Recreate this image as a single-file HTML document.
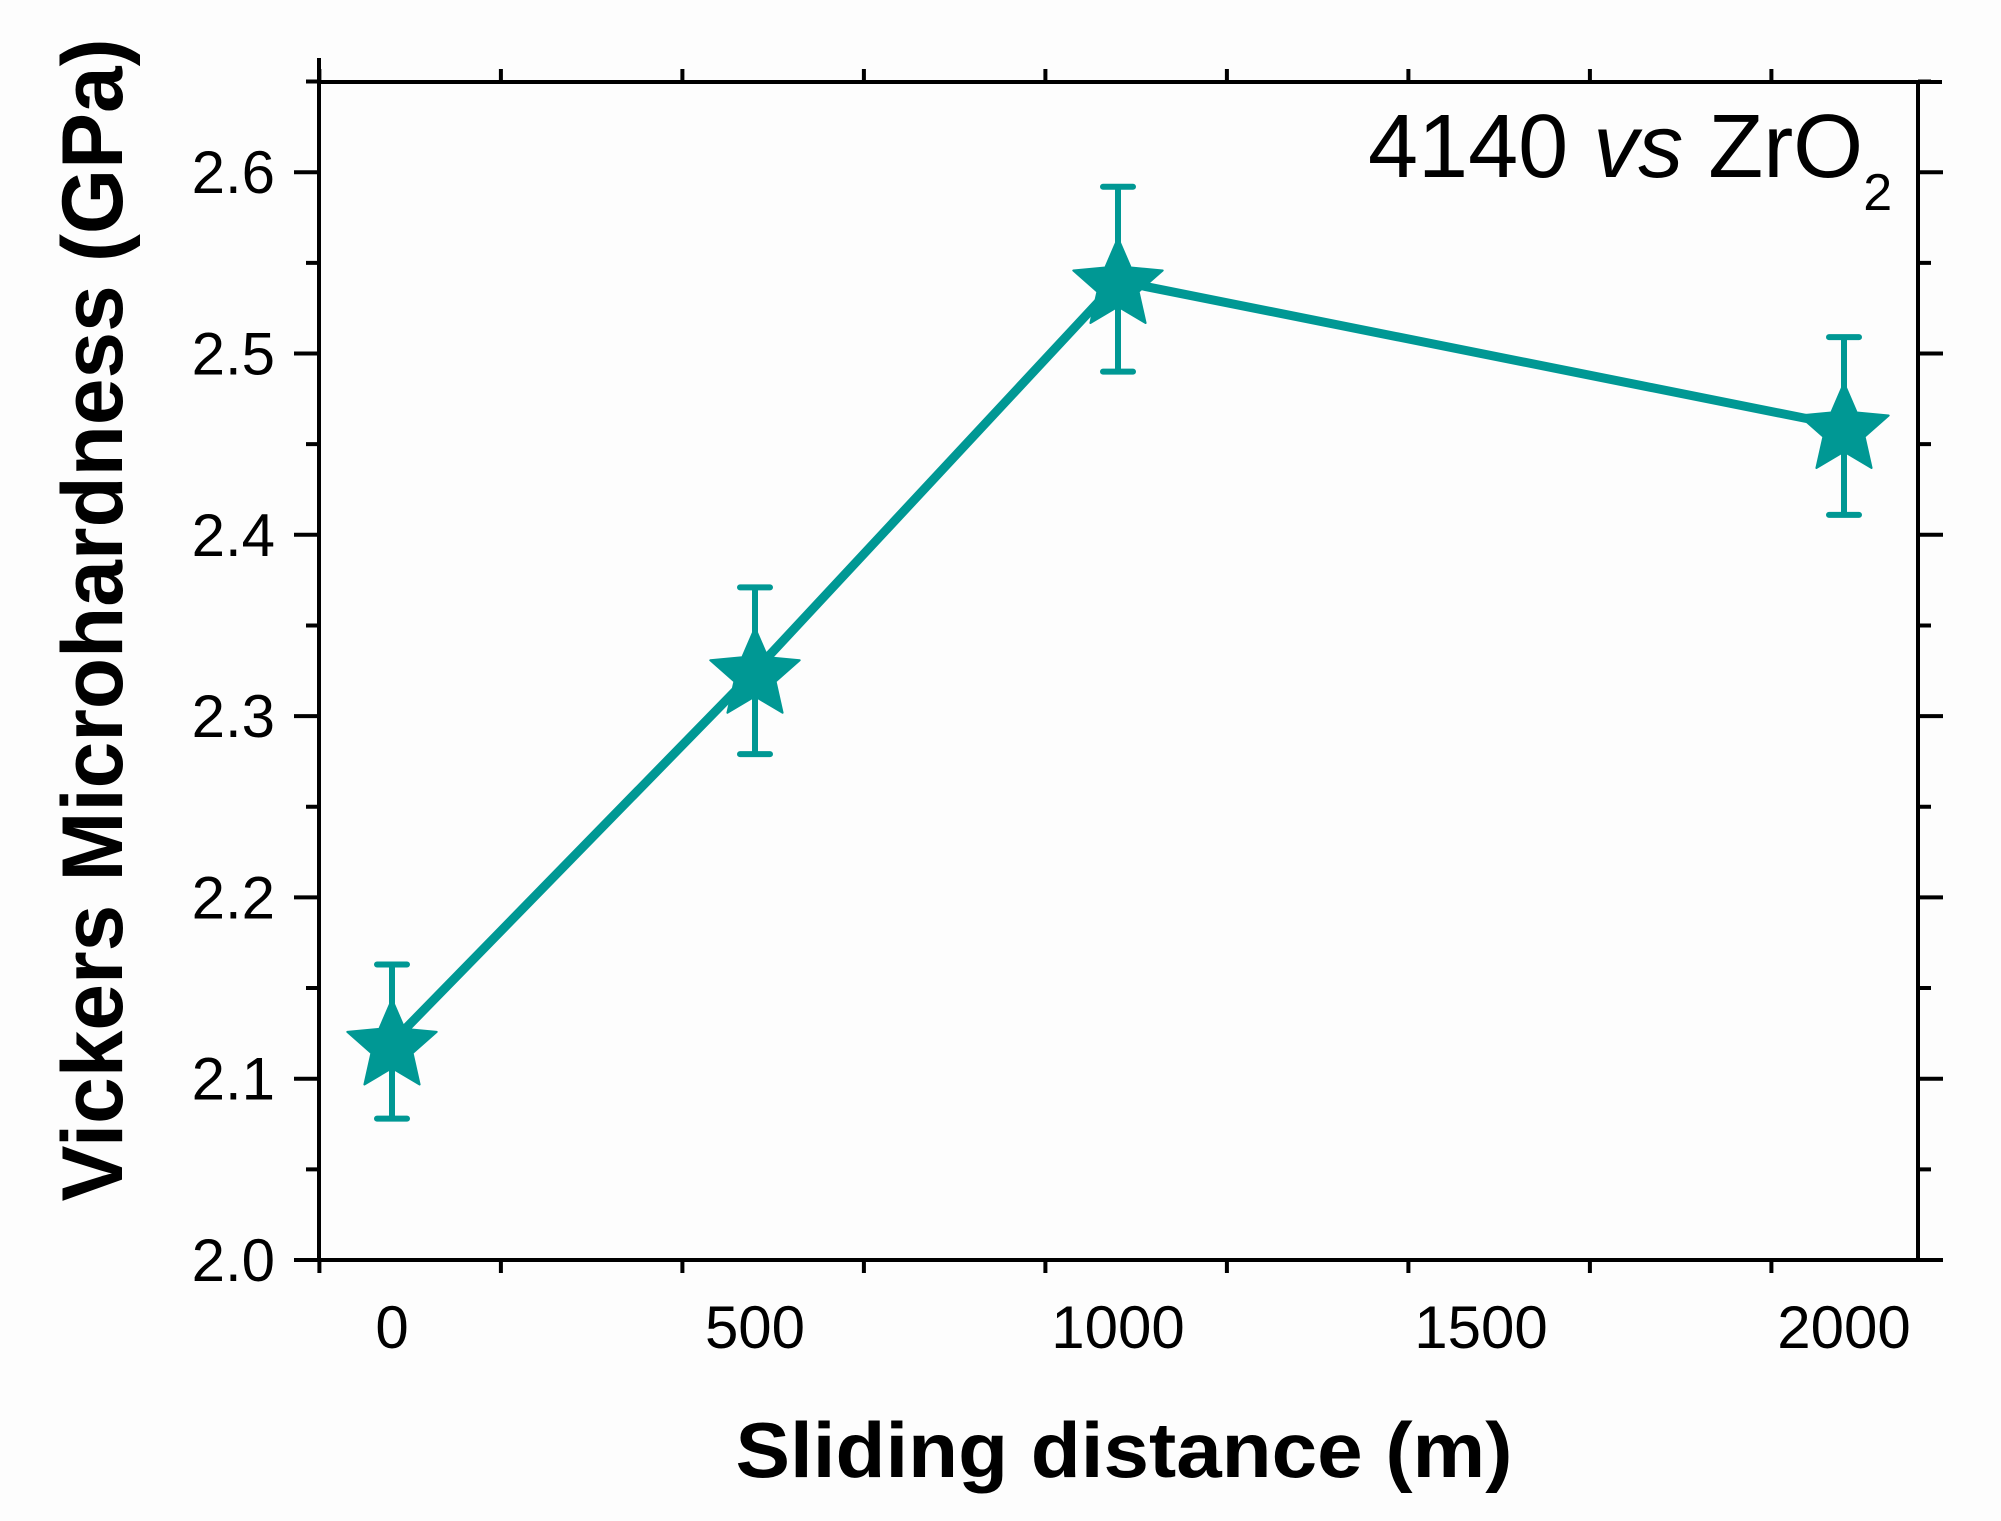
<!DOCTYPE html>
<html><head><meta charset="utf-8"><style>
html,body{margin:0;padding:0;background:#fdfdfd;}
svg{display:block;}
text{font-family:"Liberation Sans",Arial,sans-serif;fill:#000;}
</style></head><body>
<svg id="chart" width="2001" height="1521" viewBox="0 0 2001 1521" xmlns="http://www.w3.org/2000/svg">
<rect x="0" y="0" width="2001" height="1521" fill="#fdfdfd"/>
<g id="axes"></g>
<g id="series"></g>
<text x="1368" y="177" font-size="90">4140 <tspan font-style="italic">vs</tspan> ZrO<tspan font-size="52" dy="33">2</tspan></text>
<text x="1124" y="1477" font-size="78" font-weight="bold" text-anchor="middle" textLength="777" lengthAdjust="spacingAndGlyphs">Sliding distance (m)</text>
<text transform="translate(122,620) rotate(-90)" font-size="86" font-weight="bold" text-anchor="middle" textLength="1163" lengthAdjust="spacingAndGlyphs">Vickers Microhardness (GPa)</text>
</svg>
<script>
const distances = [0, 500, 1000, 2000];
const hardness = [2.12, 2.325, 2.54, 2.46];
const errUpper = [2.163, 2.371, 2.592, 2.509];
const errLower = [2.078, 2.279, 2.49, 2.411];
const xTicks = [0, 500, 1000, 1500, 2000];
const xTickLabels = ['0', '500', '1000', '1500', '2000'];
const yTicks = [2.0, 2.1, 2.2, 2.3, 2.4, 2.5, 2.6];
const yTickLabels = ['2.0', '2.1', '2.2', '2.3', '2.4', '2.5', '2.6'];

const NS = 'http://www.w3.org/2000/svg';
const L = 319, R = 1918, T = 82, B = 1260;
function sx(v){ return 392 + v * (1844 - 392) / 2000; }
function sy(v){ return 1260 - (v - 2.0) * 1813; }
function mk(tag, attrs, parent){
  const e = document.createElementNS(NS, tag);
  for (const k in attrs) e.setAttribute(k, attrs[k]);
  parent.appendChild(e);
  return e;
}
const axes = document.getElementById('axes');
const series = document.getElementById('series');
const frame = mk('rect', {x:L, y:T, width:R-L, height:B-T, fill:'none', stroke:'#000', 'stroke-width':4}, axes);


const ext = mk('path', {d:`M${L-24},${B}H${L} M${R},${B}H${R+24} M${L},${T}V${T-24} M${R},${T}H${R+24}`, stroke:'#000', 'stroke-width':4, fill:'none'}, axes);



for (let v = -100; v <= 2100; v += 250) {
  const x = sx(v);
  if (x < L - 30 || x > R + 30) continue;
  const major = v % 500 === 0;
  const len = major ? 25 : 13;
  const t = mk('path', {d:`M${x},${B}V${B+len} M${x},${T}V${T-len}`, stroke:'#000', 'stroke-width':4}, axes);
  
  
}
xTicks.forEach((v, i) => {
  const t = mk('text', {x:sx(v), y:1348, 'font-size':60, 'text-anchor':'middle'}, axes);
  t.textContent = xTickLabels[i];
  
  
});
for (let k = 0; k <= 13; k++) {
  const v = 2.0 + k * 0.05;
  const y = sy(v);
  const major = k % 2 === 0;
  const len = major ? 25 : 13;
  const t = mk('path', {d:`M${L},${y}H${L-len} M${R},${y}H${R+len}`, stroke:'#000', 'stroke-width':4}, axes);
  
  
}
yTicks.forEach((v, i) => {
  const t = mk('text', {x:275, y:sy(v)+21, 'font-size':60, 'text-anchor':'end'}, axes);
  t.textContent = yTickLabels[i];
  
  
});

const color = '#009894';
distances.forEach((d, i) => {
  const x = sx(d);
  const e = mk('path', {d:`M${x},${sy(errUpper[i])}V${sy(errLower[i])} M${x-15},${sy(errUpper[i])}H${x+15} M${x-15},${sy(errLower[i])}H${x+15}`, stroke:color, 'stroke-width':6, 'stroke-linecap':'round', fill:'none'}, series);
  
  
});
const pts = distances.map((d, i) => `${sx(d)},${sy(hardness[i])}`).join(' ');
const line = mk('polyline', {points:pts, fill:'none', stroke:color, 'stroke-width':9, 'stroke-linejoin':'round'}, series);


function starPath(cx, cy, r){
  const ri = r * 0.46; let d = '';
  for (let k = 0; k < 10; k++) {
    const a = -Math.PI/2 + k * Math.PI/5;
    const rr = k % 2 === 0 ? r : ri;
    d += (k === 0 ? 'M' : 'L') + (cx + rr*Math.cos(a)).toFixed(1) + ',' + (cy + rr*Math.sin(a)).toFixed(1);
  }
  return d + 'Z';
}
distances.forEach((d, i) => {
  const s = mk('path', {d:starPath(sx(d), sy(hardness[i]) + 4, 47), fill:color, stroke:color, 'stroke-width':2, 'stroke-linejoin':'round'}, series);
  
  
});
</script>
</body></html>
